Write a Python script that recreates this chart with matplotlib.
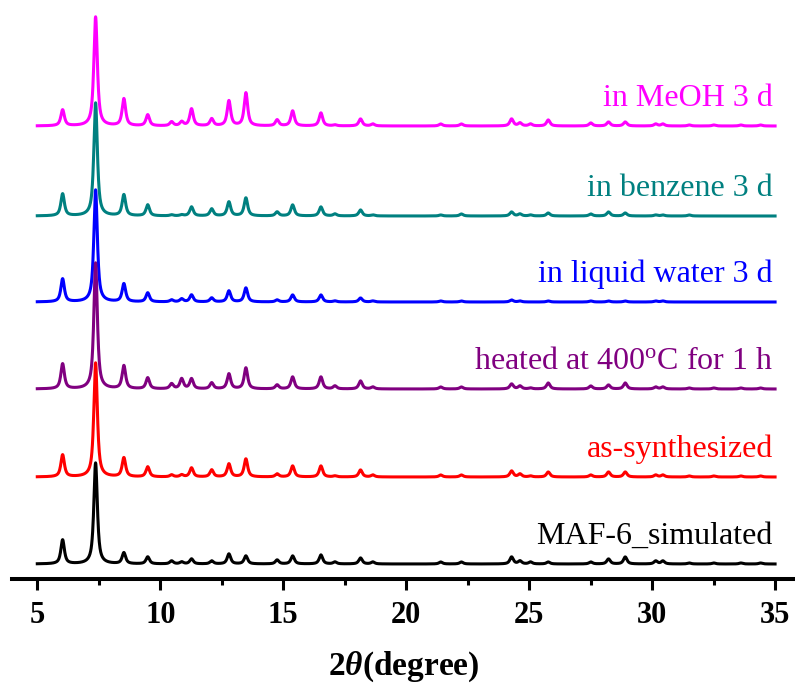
import numpy as np
from matplotlib import pyplot as plt

# Peak positions (2theta) and heights, one list per pattern
peak_pos = [6.03, 7.37, 8.52, 9.49, 10.46, 10.87, 11.27, 12.09, 12.79, 13.48,
            14.75, 15.38, 16.53, 17.10, 18.14, 18.64, 21.40, 22.24, 24.28,
            24.62, 25.05, 25.77, 27.50, 28.22, 28.90, 30.14, 30.43, 31.5,
            32.5, 33.6, 34.4]

simulated = [24, 101, 11, 7, 3, 2, 5, 3, 10, 8, 4, 8, 9, 2, 6, 2, 2, 2, 7,
             3, 2, 2, 2, 5, 7, 3, 3, 1, 1, 1, 1]
as_synth = [22, 114, 19, 10, 2, 2, 9, 7, 13, 18, 3, 11, 11, 1, 7, 2, 2, 2, 6,
            3, 1, 5, 2, 5, 5, 2, 2, 1, 1, 1, 1]
heated = [25, 126, 23, 11, 5, 10, 10, 6, 15, 21, 4, 12, 12, 3, 8, 2, 2, 2, 5,
          3, 1, 6, 3, 4, 6, 2, 2, 1, 1, 1, 1]
water = [23, 112, 18, 9, 2, 3, 7, 4, 11, 14, 2, 7, 7, 1, 4, 1, 1, 1, 2,
         1, 0, 1, 1, 1, 1, 1, 1, 0, 0, 0, 0]
benzene = [22, 113, 21, 11, 1, 1, 9, 7, 14, 18, 4, 11, 9, 2, 6, 1, 1, 2, 4,
           2, 1, 3, 2, 4, 3, 1, 1, 1, 0, 0, 0]
meoh = [16, 109, 27, 11, 4, 4, 17, 7, 25, 33, 6, 15, 13, 1, 7, 2, 2, 2, 7,
        3, 2, 6, 3, 4, 4, 2, 2, 1, 1, 1, 1]

labels = ['MAF-6_simulated', 'as-synthesized', 'heated at 400$^{\\rm o}$C for 1 h',
          'in liquid water 3 d', 'in benzene 3 d', 'in MeOH 3 d']
offsets = [0, 87, 175, 262, 348, 438]
colors = ['black', '#FF0000', '#800080', '#0000FF', '#008080', '#FF00FF']
patterns = [simulated, as_synth, heated, water, benzene, meoh]

plt.rcParams['font.family'] = 'Liberation Serif'
plt.rcParams['mathtext.fontset'] = 'custom'
plt.rcParams['mathtext.rm'] = 'Liberation Serif'
plt.rcParams['mathtext.it'] = 'Liberation Serif:italic:bold'
plt.rcParams['mathtext.bf'] = 'Liberation Serif:bold'


def profile(x, pos, heights, fwhm=0.17, eta=0.8):
    """Suma pikow pseudo-Voigta."""
    y = np.zeros_like(x)
    g = fwhm / 2.0
    for p, h in zip(pos, heights):
        lor = 1.0 / (1.0 + ((x - p) / g) ** 2)
        gau = np.exp(-np.log(2) * ((x - p) / g) ** 2)
        y += h * (eta * lor + (1 - eta) * gau)
    return y


two_theta = np.arange(5.0, 35.0, 0.01)

fig = plt.figure(figsize=(7.95, 6.89), dpi=100)
ax = fig.add_axes([11.7 / 795, 110.5 / 689, 1 - 11.7 / 795, 578.5 / 689])

# rysowanie od gory, zeby nizsze wykresy byly na wierzchu
for i in range(len(patterns) - 1, -1, -1):
    y = profile(two_theta, peak_pos, patterns[i]) + offsets[i]
    ax.plot(two_theta, y, color=colors[i], lw=2.2, zorder=2 + (6 - i))
    ax.text(34.9, offsets[i] + 20, labels[i], color=colors[i], fontsize=23,
            ha='right', va='baseline')

ax.set_xlim(3.96, 35.8)
ax.set_ylim(-14.5, 564)

for s in ['top', 'left', 'right']:
    ax.spines[s].set_visible(False)
ax.spines['bottom'].set_linewidth(2.9)
ax.set_yticks([])
ax.set_xticks(range(5, 36, 5))
ax.set_xticks(np.arange(7.5, 35, 5), minor=True)
ax.tick_params(axis='x', which='major', length=8, width=2.2, direction='out',
               labelsize=22, pad=8)
ax.tick_params(axis='x', which='minor', length=4, width=2.2, direction='out')
for lab in ax.get_xticklabels():
    lab.set_fontweight('bold')

ax.set_xlabel(r'2$\theta$(degree)', fontsize=24, fontweight='bold', labelpad=14)

fig.savefig('out.png', dpi=100)
